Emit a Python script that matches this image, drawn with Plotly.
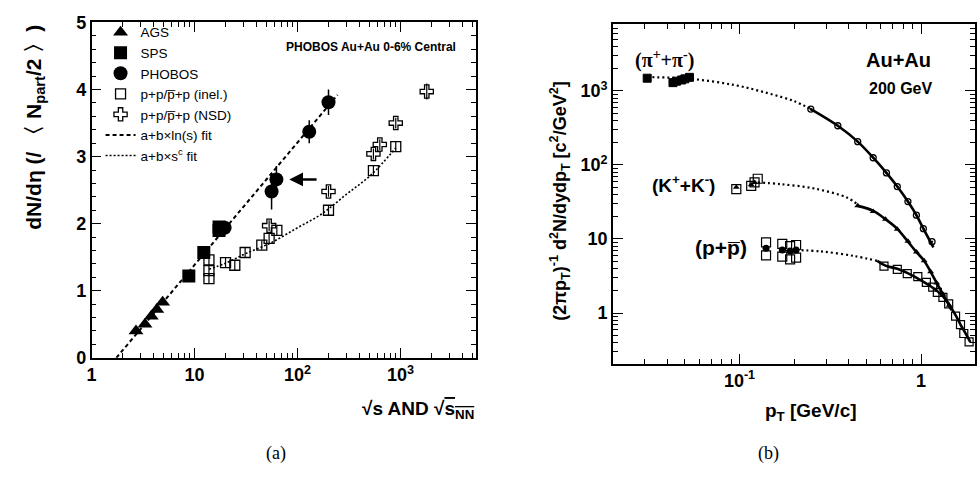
import plotly.graph_objects as go

# ---------------- panel (a): dN/deta per participant pair vs energy ----------------
ags_x = [2.7, 3.3, 3.8, 4.3, 4.9]
ags_y = [0.40, 0.50, 0.62, 0.72, 0.83]

sps_x = [8.8, 12.3, 17.3, 17.3]
sps_y = [1.22, 1.57, 1.90, 1.95]

phobos_x = [19.6, 56.0, 62.4, 130.0, 200.0]
phobos_y = [1.94, 2.48, 2.66, 3.37, 3.81]
phobos_err = [0.10, 0.27, 0.20, 0.17, 0.19]

inel_x = [13.8, 13.8, 13.8, 20.0, 24.6, 31.0, 45.0, 53.0, 63.0, 200.0, 546.0, 900.0]
inel_y = [1.46, 1.30, 1.18, 1.42, 1.38, 1.57, 1.68, 1.78, 1.90, 2.20, 2.79, 3.15]
inel_err = [0.08, 0.08, 0.08, 0.07, 0.07, 0.07, 0.07, 0.07, 0.07, 0.07, 0.07, 0.08]

nsd_x = [53.0, 200.0, 546.0, 630.0, 900.0, 1800.0]
nsd_y = [1.97, 2.48, 3.04, 3.18, 3.50, 3.97]
nsd_err = [0.08, 0.08, 0.08, 0.08, 0.08, 0.12]

lnfit_x = [1.74, 245.0]
lnfit_y = [0.0, 3.92]

powfit_x = [13.8, 20.0, 31.0, 56.0, 100.0, 170.0, 300.0, 520.0, 900.0]
powfit_y = [1.32, 1.41, 1.55, 1.72, 1.94, 2.14, 2.44, 2.73, 3.13]

a_xticks = [1, 10, 100, 1000]
a_xticktext = ["1", "10", "10<sup>2</sup>", "10<sup>3</sup>"]
a_xminor = [2, 3, 4, 5, 6, 7, 8, 9, 20, 30, 40, 50, 60, 70, 80, 90,
            200, 300, 400, 500, 600, 700, 800, 900, 2000, 3000, 4000, 5000]

# ---------------- panel (b): identified-hadron pT spectra ----------------
pi_lo_x = [0.031, 0.043, 0.045, 0.048, 0.050, 0.053]
pi_lo_y = [1480, 1290, 1350, 1400, 1450, 1520]
pi_x = [0.247, 0.348, 0.448, 0.545, 0.645, 0.74, 0.847, 0.943, 1.03, 1.15]
pi_y = [568, 338, 206, 125, 78, 51, 32, 21, 13.8, 9.2]
pi_ext_x = [0.031, 0.053, 0.094, 0.143, 0.200, 0.247]
pi_ext_y = [1530, 1455, 1195, 930, 725, 568]
pi_fit_x = [0.247, 0.348, 0.448, 0.545, 0.645, 0.74, 0.847, 0.943, 1.03, 1.17]
pi_fit_y = [568, 338, 206, 125, 78, 51, 32, 21, 13.8, 7.7]

k_lo_x = [0.096, 0.116, 0.121, 0.126]
k_lo_y = [47, 52, 58, 65]
k_lo_tri_x = [0.096, 0.116, 0.121]
k_lo_tri_y = [50, 54, 58]
k_x = [0.448, 0.545, 0.637, 0.74, 0.847, 0.944, 1.04, 1.13, 1.22, 1.32, 1.43]
k_y = [28, 23.5, 18.5, 13.5, 9.3, 6.7, 5.1, 3.6, 2.55, 1.8, 1.28]
k_ext_x = [0.126, 0.169, 0.258, 0.393, 0.448]
k_ext_y = [58, 55, 48, 36, 29]
k_fit_x = [0.448, 0.545, 0.637, 0.74, 0.847, 0.944, 1.04, 1.13, 1.22, 1.32, 1.43, 1.47]
k_fit_y = [28, 24, 18.5, 13.7, 9.2, 6.65, 5.1, 3.6, 2.54, 1.8, 1.27, 1.09]

p_lo_sq_x = [0.14, 0.14, 0.172, 0.172, 0.19, 0.19, 0.205, 0.205]
p_lo_sq_y = [9.0, 6.0, 8.6, 5.8, 8.0, 5.3, 8.3, 5.6]
p_lo_x = [0.14, 0.172, 0.19, 0.205]
p_lo_y = [7.5, 7.1, 6.9, 7.1]
p_x = [0.625, 0.74, 0.84, 0.96, 1.07, 1.16, 1.23, 1.32, 1.42, 1.55, 1.65, 1.72, 1.84]
p_y = [4.3, 3.9, 3.4, 3.1, 2.6, 2.24, 1.9, 1.63, 1.33, 0.91, 0.70, 0.53, 0.41]
p_ext_x = [0.205, 0.281, 0.427, 0.574]
p_ext_y = [7.1, 6.8, 5.9, 5.07]
p_fit_x = [0.574, 0.637, 0.74, 0.855, 0.99, 1.13, 1.29, 1.42, 1.55, 1.65, 1.75, 1.87]
p_fit_y = [5.07, 4.37, 3.96, 3.41, 2.8, 2.3, 1.79, 1.33, 0.94, 0.70, 0.545, 0.405]

b_xticks = [0.1, 1]
b_xticktext = ["10<sup>-1</sup>", "1"]
b_xminor = [0.02, 0.03, 0.04, 0.05, 0.06, 0.07, 0.08, 0.09,
            0.2, 0.3, 0.4, 0.5, 0.6, 0.7, 0.8, 0.9, 2]
b_yticks = [1, 10, 100, 1000]
b_yticktext = ["1", "10", "10<sup>2</sup>", "10<sup>3</sup>"]
b_yminor = [0.3, 0.4, 0.5, 0.6, 0.7, 0.8, 0.9, 2, 3, 4, 5, 6, 7, 8, 9,
            20, 30, 40, 50, 60, 70, 80, 90, 200, 300, 400, 500, 600, 700, 800, 900,
            2000, 3000, 4000, 5000, 6000, 7000]

BLACK = "black"
SANS = "Liberation Sans"
SERIF = "Liberation Serif"

fig = go.Figure()

# panel (a) traces
fig.add_trace(go.Scatter(x=ags_x, y=ags_y, mode="markers", name="AGS",
                         marker=dict(symbol="triangle-up", size=13, color=BLACK),
                         xaxis="x", yaxis="y"))
fig.add_trace(go.Scatter(x=sps_x, y=sps_y, mode="markers", name="SPS",
                         marker=dict(symbol="square", size=13, color=BLACK),
                         xaxis="x", yaxis="y"))
fig.add_trace(go.Scatter(x=phobos_x, y=phobos_y, mode="markers", name="PHOBOS",
                         marker=dict(symbol="circle", size=14, color=BLACK),
                         error_y=dict(type="data", array=phobos_err, color=BLACK,
                                      thickness=1.5, width=0),
                         xaxis="x", yaxis="y"))
fig.add_trace(go.Scatter(x=inel_x, y=inel_y, mode="markers",
                         name="p+p/p\u0305+p (inel.)",
                         marker=dict(symbol="square-open", size=10, color=BLACK,
                                     line=dict(width=1.3)),
                         error_y=dict(type="data", array=inel_err, color=BLACK,
                                      thickness=1.2, width=0),
                         xaxis="x", yaxis="y"))
fig.add_trace(go.Scatter(x=nsd_x, y=nsd_y, mode="markers",
                         name="p+p/p\u0305+p (NSD)",
                         marker=dict(symbol="cross-open", size=11, color=BLACK,
                                     line=dict(width=1.3)),
                         error_y=dict(type="data", array=nsd_err, color=BLACK,
                                      thickness=1.2, width=0),
                         xaxis="x", yaxis="y"))
fig.add_trace(go.Scatter(x=lnfit_x, y=lnfit_y, mode="lines", name="a+b\u00d7ln(s) fit",
                         line=dict(color=BLACK, width=2, dash="4px,3px"),
                         xaxis="x", yaxis="y"))
fig.add_trace(go.Scatter(x=powfit_x, y=powfit_y, mode="lines",
                         name="a+b\u00d7s<sup>c</sup> fit",
                         line=dict(color=BLACK, width=1.6, dash="2px,2px", shape="spline"),
                         xaxis="x", yaxis="y"))

# panel (b) traces
def spec(x, y, **kw):
    fig.add_trace(go.Scatter(x=x, y=y, showlegend=False, xaxis="x2", yaxis="y2", **kw))

dotted = dict(color=BLACK, width=2.2, dash="2px,3px", shape="spline")
solid = dict(color=BLACK, width=2.6, shape="spline")

spec(pi_ext_x, pi_ext_y, mode="lines", line=dotted)
spec(k_ext_x, k_ext_y, mode="lines", line=dotted)
spec(p_ext_x, p_ext_y, mode="lines", line=dotted)
spec(pi_fit_x, pi_fit_y, mode="lines", line=solid)
spec(k_fit_x, k_fit_y, mode="lines", line=solid)
spec(p_fit_x, p_fit_y, mode="lines", line=solid)

spec(pi_lo_x, pi_lo_y, mode="markers",
     marker=dict(symbol="square", size=8, color=BLACK, line=dict(width=1, color=BLACK)))
spec(pi_x, pi_y, mode="markers",
     marker=dict(symbol="circle-open-dot", size=6, color=BLACK, line=dict(width=1.3)))
spec(k_lo_x, k_lo_y, mode="markers",
     marker=dict(symbol="square-open", size=9, color=BLACK, line=dict(width=1.2)))
spec(k_lo_tri_x, k_lo_tri_y, mode="markers",
     marker=dict(symbol="triangle-up", size=6, color=BLACK))
spec(k_x, k_y, mode="markers",
     marker=dict(symbol="triangle-up", size=6, color=BLACK))
spec(p_lo_sq_x, p_lo_sq_y, mode="markers",
     marker=dict(symbol="square-open", size=9, color=BLACK, line=dict(width=1.2)))
spec(p_lo_x, p_lo_y, mode="markers",
     marker=dict(symbol="circle", size=7, color=BLACK))
spec(p_x, p_y, mode="markers",
     marker=dict(symbol="square-open", size=8, color=BLACK, line=dict(width=1.2)))

tickfont = dict(family=SANS, size=18, color=BLACK, weight="bold")
common = dict(showline=True, linecolor=BLACK, linewidth=1.5, mirror="allticks",
              ticks="inside", ticklen=10, tickwidth=1.3, tickcolor=BLACK,
              showgrid=False, zeroline=False, tickfont=tickfont)

fig.update_layout(
    width=980, height=479,
    margin=dict(l=0, r=0, t=0, b=0),
    paper_bgcolor="white", plot_bgcolor="white",
    showlegend=True,
    legend=dict(x=0.098, y=0.985, xanchor="left", yanchor="top",
                bgcolor="rgba(0,0,0,0)", borderwidth=0,
                font=dict(family=SANS, size=13.5, color=BLACK),
                tracegroupgap=0, itemwidth=30),
    xaxis=dict(common, type="log", domain=[0.0888, 0.4827], range=[0, 3.73],
               tickvals=a_xticks, ticktext=a_xticktext, anchor="y",
               minor=dict(tickvals=a_xminor, ticks="inside", ticklen=5,
                          tickwidth=1.1, tickcolor=BLACK, showgrid=False)),
    yaxis=dict(common, domain=[0.2422, 0.9729], range=[0, 5], dtick=1, anchor="x",
               minor=dict(dtick=0.2, ticks="inside", ticklen=5, tickwidth=1.1,
                          tickcolor=BLACK, showgrid=False)),
    xaxis2=dict(common, type="log", domain=[0.6235, 0.9949], range=[-1.6975, 0.2975],
                tickvals=b_xticks, ticktext=b_xticktext, anchor="y2",
                minor=dict(tickvals=b_xminor, ticks="inside", ticklen=5,
                           tickwidth=1.1, tickcolor=BLACK, showgrid=False)),
    yaxis2=dict(common, type="log", domain=[0.2296, 0.9687], range=[-0.682, 3.897],
                tickvals=b_yticks, ticktext=b_yticktext, anchor="x2",
                minor=dict(tickvals=b_yminor, ticks="inside", ticklen=5,
                           tickwidth=1.1, tickcolor=BLACK, showgrid=False)),
)

def note(text, x, y, size, family=SANS, angle=0, xanchor="center", bold=True):
    t = f"<b>{text}</b>" if bold else text
    fig.add_annotation(text=t, x=x / 980, y=1 - y / 479, xref="paper", yref="paper",
                       showarrow=False, xanchor=xanchor, yanchor="middle",
                       textangle=angle, font=dict(family=family, size=size, color=BLACK))

# panel (a) labels
note("PHOBOS Au+Au 0-6% Central", 368, 39, 12)
note("dN/d\u03b7 (/ \u3008 N<sub>part</sub>/2 \u3009)", 30, 122, 21, angle=-90)
note("\u221as AND \u221a<span style='text-decoration:overline'>s<sub>NN</sub></span>",
     473, 417, 19, xanchor="right")
note("(a)", 272, 463, 18, family=SERIF, bold=False)

# arrow marking the 62.4 GeV point (annotation coordinates on log axes are log10)
fig.add_annotation(x=1.92, y=2.66, ax=2.2, ay=2.66, xref="x", yref="y",
                   axref="x", ayref="y", text="", showarrow=True,
                   arrowhead=2, arrowsize=1.1, arrowwidth=2.5, arrowcolor=BLACK)

# panel (b) labels
note("(\u03c0<sup>+</sup>+\u03c0<sup>-</sup>)", 663, 52, 20, family=SERIF)
note("(K<sup>+</sup>+K<sup>-</sup>)", 682, 182, 19)
note("(p+p\u0305)", 720, 248, 21)
note("Au+Au", 898, 52, 20)
note("200 GeV", 900, 82, 16)
note("(2\u03c0p<sub>T</sub>)<sup>-1</sup> d<sup>2</sup>N/dydp<sub>T</sub> [c<sup>2</sup>/GeV<sup>2</sup>]",
     558, 200, 18, angle=-90)
note("p<sub>T</sub> [GeV/c]", 810, 420, 19)
note("(b)", 767, 463, 18, family=SERIF, bold=False)

fig.write_html("out.html")
